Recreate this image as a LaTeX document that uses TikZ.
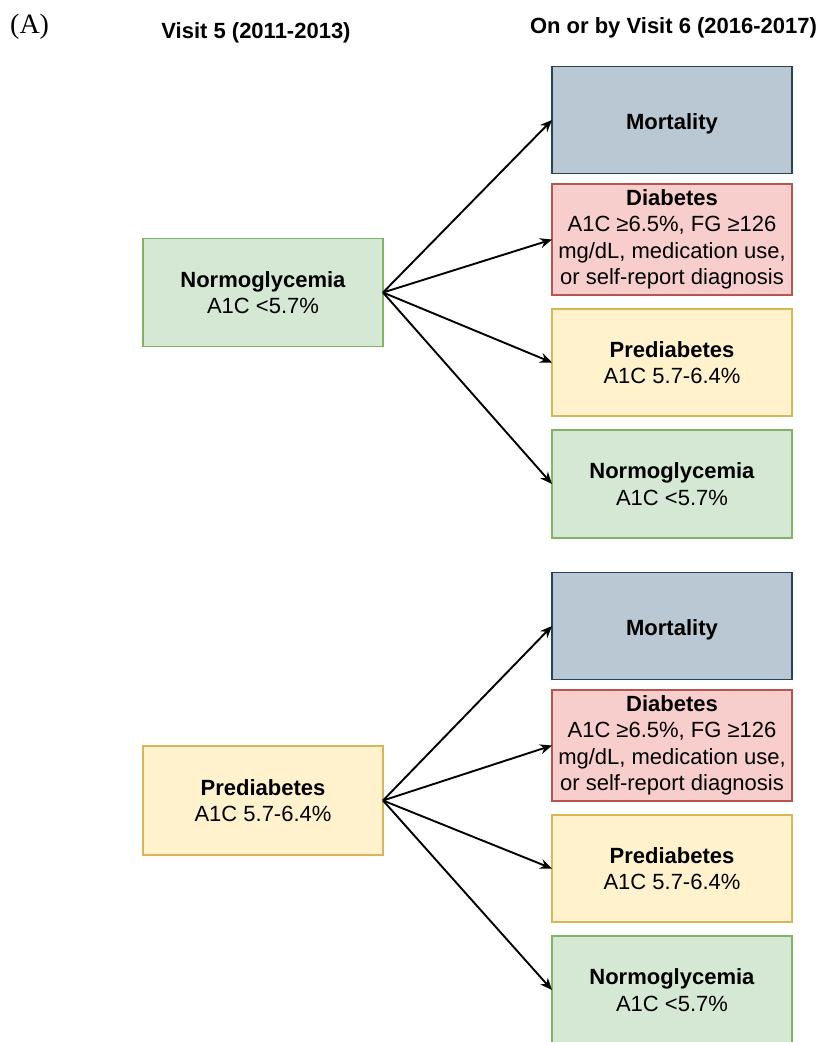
\documentclass[tikz,border=0pt]{standalone}
\usepackage{fontspec}
\setmainfont{Liberation Sans}
\newfontfamily\serifA{Liberation Serif}
\usetikzlibrary{arrows.meta}
\definecolor{gfill}{HTML}{D5E8D4}\definecolor{gdraw}{HTML}{82B366}
\definecolor{bfill}{HTML}{BAC8D3}\definecolor{bdraw}{HTML}{23445D}
\definecolor{rfill}{HTML}{F8CECC}\definecolor{rdraw}{HTML}{B85450}
\definecolor{yfill}{HTML}{FFF2CC}\definecolor{ydraw}{HTML}{D6B656}
\tikzset{
  box/.style={rectangle, minimum width=240pt, inner sep=0pt, outer sep=0pt, line width=1.6pt, align=center,
    font=\fontsize{22}{26.4}\selectfont},
  greenbox/.style={box, fill=gfill, draw=gdraw},
  bluebox/.style={box, fill=bfill, draw=bdraw},
  redbox/.style={box, fill=rfill, draw=rdraw},
  yellowbox/.style={box, fill=yfill, draw=ydraw},
  head/.style={anchor=base, inner sep=0pt, font=\fontsize{22}{26.4}\selectfont\bfseries},
  conn/.style={line width=1.9pt, -{Stealth[length=12pt,width=10pt,inset=4pt]}}
}
\begin{document}
\begin{tikzpicture}[x=1pt,y=-1pt]
\useasboundingbox (0,0) rectangle (827,1042);
\node[anchor=base west, inner sep=0pt, font=\serifA\fontsize{28}{30}\selectfont] (lbl) at (10,33) {(A)};
\node[head] (h1) at (256,38) {Visit 5 (2011-2013)};
\node[head] (h2) at (673.5,33) {On or by Visit 6 (2016-2017)};
% top group
\node[greenbox, minimum height=108pt] (n0) at (263,292.5) {\textbf{Normoglycemia}\\A1C <5.7\%};
\node[bluebox, minimum height=107pt] (m1) at (672,120) {\rule{0pt}{23pt}\textbf{Mortality}};
\node[redbox, minimum height=111pt] (d1) at (672,239.5) {\textbf{Diabetes}\\A1C ≥6.5\%, FG ≥126\\mg/dL, medication use,\\or self-report diagnosis};
\node[yellowbox, minimum height=107pt] (p1) at (672,362.5) {\textbf{Prediabetes}\\A1C 5.7-6.4\%};
\node[greenbox, minimum height=108pt] (g1) at (672,484) {\textbf{Normoglycemia}\\A1C <5.7\%};
% bottom group
\node[yellowbox, minimum height=109pt] (p0) at (263,800.5) {\textbf{Prediabetes}\\A1C 5.7-6.4\%};
\node[bluebox, minimum height=107pt] (m2) at (672,626) {\rule{0pt}{23pt}\textbf{Mortality}};
\node[redbox, minimum height=111pt] (d2) at (672,745.5) {\textbf{Diabetes}\\A1C ≥6.5\%, FG ≥126\\mg/dL, medication use,\\or self-report diagnosis};
\node[yellowbox, minimum height=107pt] (p2) at (672,868.5) {\textbf{Prediabetes}\\A1C 5.7-6.4\%};
\node[greenbox, minimum height=108pt] (g2) at (672,990) {\textbf{Normoglycemia}\\A1C <5.7\%};
% connectors
\foreach \t in {m1,d1,p1,g1} \draw[conn] (n0.east) -- (\t.west);
\foreach \t in {m2,d2,p2,g2} \draw[conn] (p0.east) -- (\t.west);
\end{tikzpicture}
\end{document}
